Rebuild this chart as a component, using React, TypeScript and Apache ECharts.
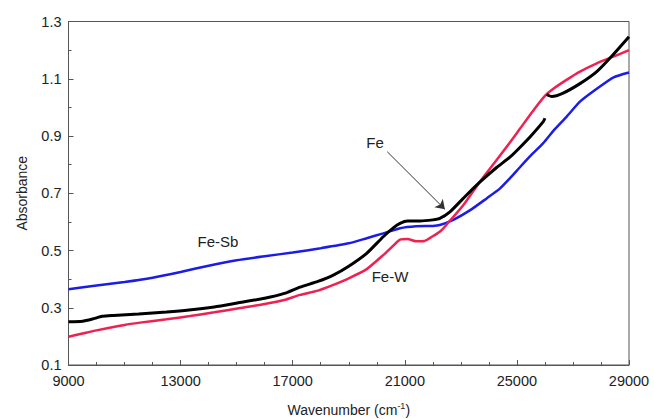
import React, { useEffect, useRef } from "react";
import * as echarts from "echarts";

// Fe-Sb (blue)
const feSbWave = [9000, 10000, 11000, 12000, 13000, 14000, 15000, 16000, 17000, 18000, 19000, 19640, 20230, 20830, 21400, 22000, 22250, 22730, 23320, 23920, 24390, 24750, 25100, 25500, 25940, 26300, 26770, 27250, 27850, 28450, 29000];
const feSbAbs = [0.365, 0.378, 0.39, 0.405, 0.425, 0.447, 0.466, 0.48, 0.493, 0.508, 0.525, 0.543, 0.56, 0.578, 0.585, 0.586, 0.589, 0.607, 0.64, 0.682, 0.716, 0.752, 0.79, 0.832, 0.875, 0.918, 0.967, 1.02, 1.065, 1.105, 1.122];

// Fe (black) — two segments with a gap near 26000
const feWave = [9000, 9500, 9900, 10200, 10600, 11500, 12500, 13300, 14200, 15100, 16000, 16700, 17260, 17900, 18450, 19000, 19640, 20230, 20600, 20830, 21100, 21540, 22000, 22250, 22610, 23085, 23656, 24276, 24750, 25107, 25500, 25940, 26000, 26020, 26060, 26240, 26650, 27250, 27850, 28440, 29000];
const feAbs = [0.251, 0.253, 0.262, 0.27, 0.273, 0.278, 0.285, 0.292, 0.303, 0.318, 0.333, 0.35, 0.372, 0.392, 0.414, 0.445, 0.49, 0.548, 0.58, 0.595, 0.603, 0.603, 0.607, 0.612, 0.635, 0.682, 0.737, 0.79, 0.826, 0.86, 0.9, 0.95, 0.962, null, 1.045, 1.038, 1.05, 1.083, 1.125, 1.185, 1.247];

// Fe-W (red)
const feWWave = [9000, 9500, 10000, 11000, 11550, 12500, 13340, 14200, 15130, 16000, 16700, 17260, 17900, 18450, 19000, 19640, 20230, 20600, 20830, 21100, 21420, 21700, 22000, 22300, 22550, 23085, 23656, 24276, 24750, 25107, 25500, 26000, 26300, 26770, 27250, 27850, 28440, 29000];
const feWAbs = [0.199, 0.21, 0.221, 0.24, 0.248, 0.26, 0.271, 0.284, 0.299, 0.313, 0.327, 0.345, 0.36, 0.38, 0.403, 0.435, 0.484, 0.518, 0.538, 0.54, 0.532, 0.533, 0.55, 0.57, 0.597, 0.658, 0.737, 0.816, 0.877, 0.925, 0.978, 1.04, 1.065, 1.096, 1.125, 1.154, 1.177, 1.2];

// Arrow annotation (data coords) pointing at the Fe curve
const arrowStart = [20374, 0.845];
const arrowEnd = [22432, 0.644];

const xTicks = { min: 9000, max: 29000, interval: 4000 };
const yTicks = { min: 0.1, max: 1.3, interval: 0.2 };

const FONT = "'Liberation Sans', Arial, sans-serif";

function pairs(xs: number[], ys: (number | null)[]) {
  return xs.map((x, i) => [x, ys[i]]);
}

export default function App() {
  const ref = useRef<HTMLDivElement>(null);
  useEffect(() => {
    if (!ref.current) return;
    const chart = echarts.init(ref.current, null, { renderer: "svg" });
    const axisCommon = {
      axisLine: { show: true, lineStyle: { color: "#555", width: 1 } },
      axisTick: { show: true, inside: true, length: 5, lineStyle: { color: "#555" } },
      splitLine: { show: false },
      axisLabel: { fontSize: 14.5, color: "#222", fontFamily: FONT },
      nameTextStyle: { fontSize: 14, color: "#222", fontFamily: FONT },
    };
    const lineCommon = {
      type: "line",
      showSymbol: false,
      smooth: 0.2,
    };
    chart.setOption({
      animation: false,
      backgroundColor: "#fff",
      grid: {
        left: 68.5,
        right: 25,
        top: 21.5,
        bottom: 54,
        show: true,
        borderColor: "#555",
        borderWidth: 1,
        outerBoundsMode: "none",
        containLabel: false,
      },
      xAxis: {
        type: "value",
        ...xTicks,
        ...axisCommon,
        axisLabel: { ...axisCommon.axisLabel, margin: 8, formatter: (v: number) => String(v) },
        minorTick: { show: true, splitNumber: 4, length: 3, lineStyle: { color: "#555" } },
        name: "Wavenumber (cm{sup|-1})",
        nameLocation: "middle",
        nameGap: 36,
        nameTextStyle: {
          fontSize: 14,
          color: "#222",
          fontFamily: FONT,
          lineHeight: 18,
          rich: {
            sup: { fontSize: 9, fontFamily: FONT, color: "#222", verticalAlign: "top", lineHeight: 10 },
          },
        },
      },
      yAxis: {
        type: "value",
        ...yTicks,
        ...axisCommon,
        axisLabel: {
          ...axisCommon.axisLabel,
          margin: 7,
          formatter: (v: number) => v.toFixed(1),
        },
        minorTick: { show: true, splitNumber: 2, length: 3, lineStyle: { color: "#555" } },
        name: "Absorbance",
        nameLocation: "middle",
        nameGap: 40,
        nameRotate: 90,
      },
      series: [
        {
          ...lineCommon,
          name: "Fe-Sb",
          data: pairs(feSbWave, feSbAbs),
          lineStyle: { color: "#1c1ce8", width: 2.5 },
          z: 2,
        },
        {
          ...lineCommon,
          name: "Fe-W",
          data: pairs(feWWave, feWAbs),
          lineStyle: { color: "#ef2150", width: 2.5 },
          z: 3,
        },
        {
          ...lineCommon,
          name: "Fe",
          data: pairs(feWave, feAbs),
          connectNulls: false,
          lineStyle: { color: "#000", width: 3 },
          z: 4,
          markLine: {
            silent: true,
            symbol: ["none", "arrow"],
            symbolSize: 9,
            label: { show: false },
            lineStyle: { color: "#333", width: 1, type: "solid" },
            data: [[{ coord: arrowStart }, { coord: arrowEnd }]],
          },
        },
      ],
      graphic: [
        {
          type: "text",
          x: 375,
          y: 142,
          style: { text: "Fe", font: `15px ${FONT}`, fill: "#222", align: "center", verticalAlign: "middle" },
        },
        {
          type: "text",
          x: 218,
          y: 241,
          style: { text: "Fe-Sb", font: `15px ${FONT}`, fill: "#222", align: "center", verticalAlign: "middle" },
        },
        {
          type: "text",
          x: 390,
          y: 276,
          style: { text: "Fe-W", font: `15px ${FONT}`, fill: "#222", align: "center", verticalAlign: "middle" },
        },
      ],
    });
    return () => chart.dispose();
  }, []);
  return (
    <div
      ref={ref}
      style={{ position: "fixed", left: 0, top: 0, width: 654, height: 419, background: "#fff" }}
    />
  );
}
